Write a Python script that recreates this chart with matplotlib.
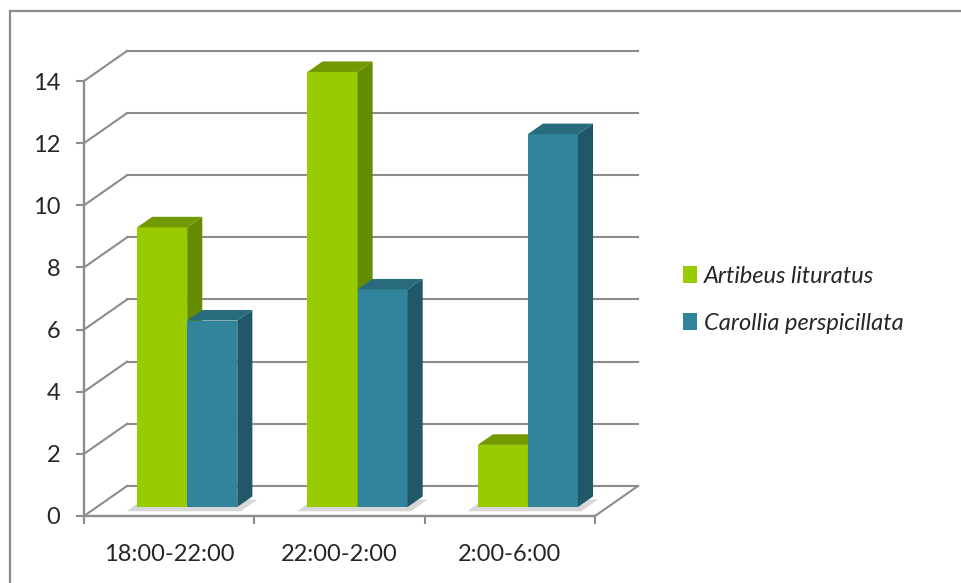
import matplotlib.pyplot as plt
from matplotlib.lines import Line2D
from matplotlib.patches import Patch

plt.rcParams['font.family'] = ['Lato', 'DejaVu Sans']

categories = ['18:00-22:00', '22:00-2:00', '2:00-6:00']
series_names = ['Artibeus lituratus', 'Carollia perspicillata']
artibeus = [9, 14, 2]
carollia = [6, 7, 12]
y_ticks = [0, 2, 4, 6, 8, 10, 12, 14]

# face colours: front, side, top
green = ('#99cc00', '#638c00', '#729a00')
blue = ('#31849b', '#205867', '#276b7d')
grid_color = '#8c8c8c'

# fake depth of the 3D floor, in data units (x = categories, y = values)
DX, DY = 0.253, 0.968
f0, f1 = 0.30, 0.65      # bar front / back depth as a fraction of the floor
bar_w = 0.294
x_shift = 0.03

W, H = 961, 583
fig = plt.figure(figsize=(W / 100, H / 100), dpi=100)
ax = fig.add_axes([84 / W, (H - 516) / H, 511 / W, 435 / H])
ax.set_xlim(0, 3)
ax.set_ylim(0, 14)

# back wall gridlines and side-wall diagonals
for v in y_ticks:
    ax.plot([DX, 3 + DX], [v + DY, v + DY], color=grid_color, lw=1.5,
            clip_on=False, zorder=1)
    ax.plot([0, DX], [v, v + DY], color=grid_color, lw=1.5,
            clip_on=False, zorder=1)
ax.plot([3, 3 + DX], [0, DY], color=grid_color, lw=1.5, clip_on=False, zorder=1)


def draw_bar(x_left, h, cols, z):
    d = f1 - f0
    x0 = x_left + f0 * DX
    y0 = f0 * DY
    top = y0 + h
    ax.bar(x0, h, bar_w, bottom=y0, align='edge', color=cols[0],
           lw=0, clip_on=False, zorder=z)
    ax.fill([x0, x0 + bar_w, x0 + bar_w + d * DX, x0 + d * DX],
            [top, top, top + d * DY, top + d * DY],
            color=cols[2], lw=0, clip_on=False, zorder=z)
    ax.fill([x0 + bar_w, x0 + bar_w + d * DX, x0 + bar_w + d * DX, x0 + bar_w],
            [y0, y0 + d * DY, top + d * DY, top],
            color=cols[1], lw=0, clip_on=False, zorder=z)


for i in range(len(categories)):
    left = i + 0.5 + x_shift - bar_w
    right = i + 0.5 + x_shift + bar_w
    # soft floor shadow under each pair of bars
    ax.fill([left - 0.06 + f0 * DX, right + f0 * DX + 0.02,
             right + f1 * DX + 0.03, left + f1 * DX - 0.06],
            [f0 * DY - 0.14, f0 * DY - 0.14, f1 * DY - 0.1, f1 * DY - 0.1],
            color='#bdbdbd', alpha=0.6, lw=0, clip_on=False, zorder=2)
    draw_bar(left, artibeus[i], green, 3 + 2 * i)
    draw_bar(i + 0.5 + x_shift, carollia[i], blue, 4 + 2 * i)

# axes styling
for s in ('top', 'right'):
    ax.spines[s].set_visible(False)
for s in ('left', 'bottom'):
    ax.spines[s].set_color(grid_color)
    ax.spines[s].set_linewidth(1.7)
    ax.spines[s].set_zorder(2)

ax.set_yticks(y_ticks)
ax.tick_params(axis='y', length=6, width=1.5, color=grid_color, pad=11,
               labelsize=17, labelcolor='#262626')
ax.set_xticks([0.5, 1.5, 2.5])
ax.set_xticklabels(categories)
ax.set_xticks([0, 1, 2, 3], minor=True)
ax.tick_params(axis='x', which='major', length=0, pad=20, labelsize=17,
               labelcolor='#262626')
ax.tick_params(axis='x', which='minor', length=6, width=1.5, color=grid_color)

handles = [Patch(facecolor=green[0]), Patch(facecolor=blue[0])]
leg = ax.legend(handles, series_names, loc='center left',
                bbox_to_anchor=(683 / W, (H - 300) / H),
                bbox_transform=fig.transFigure, frameon=False,
                borderpad=0, borderaxespad=0, handlelength=0.6,
                handleheight=0.7, handletextpad=0.3, labelspacing=1.1,
                prop={'size': 17, 'style': 'italic'})
for t in leg.get_texts():
    t.set_color('#262626')

# chart area border (top and left edges)
fig.add_artist(Line2D([10 / W, 1], [1 - 11 / H, 1 - 11 / H], color=grid_color,
                      lw=1.6, transform=fig.transFigure))
fig.add_artist(Line2D([10 / W, 10 / W], [0, 1 - 11 / H], color=grid_color,
                      lw=1.6, transform=fig.transFigure))

fig.savefig('out.png', dpi=100)
